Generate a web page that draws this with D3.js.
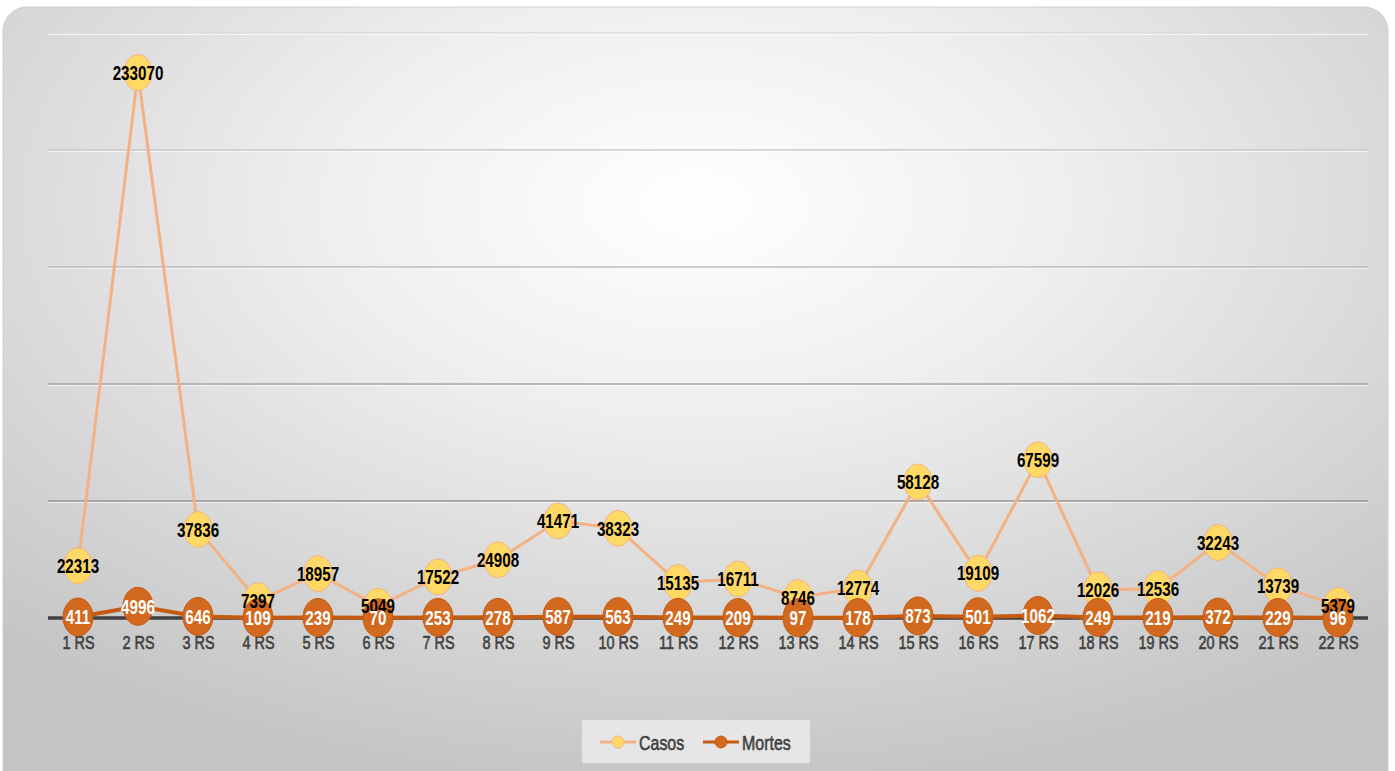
<!DOCTYPE html>
<html><head><meta charset="utf-8">
<script src="https://cdn.jsdelivr.net/npm/d3@7"></script>
<style>html,body{margin:0;padding:0;background:#fff;}svg{display:block;}</style>
</head><body>
<svg id="chart" width="1395" height="771"></svg>
<script>
const categories = ["1 RS","2 RS","3 RS","4 RS","5 RS","6 RS","7 RS","8 RS","9 RS","10 RS","11 RS","12 RS","13 RS","14 RS","15 RS","16 RS","17 RS","18 RS","19 RS","20 RS","21 RS","22 RS"];
const casos = [22313,233070,37836,7397,18957,5049,17522,24908,41471,38323,15135,16711,8746,12774,58128,19109,67599,12026,12536,32243,13739,5379];
const mortes = [411,4996,646,109,239,70,253,278,587,563,249,209,97,178,873,501,1062,249,219,372,229,96];
const yTicks = [0,50000,100000,150000,200000,250000];
const seriesNames = ["Casos","Mortes"];

const svg = d3.select("#chart");
const font = "'Liberation Sans',Arial,sans-serif";
const SX = 0.76;

const defs = svg.append("defs");
const rg = defs.append("radialGradient").attr("id","bg")
  .attr("cx","50%").attr("cy","25%").attr("r","75%").attr("fx","50%").attr("fy","25%");
rg.append("stop").attr("offset","0%").attr("stop-color","#ffffff");
rg.append("stop").attr("offset","35%").attr("stop-color","#efefef");
rg.append("stop").attr("offset","100%").attr("stop-color","#c4c4c4");

svg.append("rect").attr("x",3).attr("y",7).attr("width",1385).attr("height",790)
  .attr("rx",24).attr("fill","url(#bg)").attr("stroke","#d0d0d0").attr("stroke-width",1);

const x = d3.scalePoint().domain(categories).range([78,1338]);
const y = d3.scaleLinear().domain([0,250000]).range([618,33]);

const gridColors = ["#3f3f3f","#969696","#a4a4a4","#bcbcbc","#cacaca","#dcdcdc"];
const gridG = svg.append("g");
yTicks.forEach((t,i)=>{
  if(i===0) return;
  gridG.append("line").attr("x1",48).attr("x2",1368).attr("y1",y(t)+1.5).attr("y2",y(t)+1.5)
    .attr("stroke","#ffffff").attr("stroke-opacity",0.7).attr("stroke-width",1);
  gridG.append("line").attr("x1",48).attr("x2",1368).attr("y1",y(t)).attr("y2",y(t))
    .attr("stroke",gridColors[i]).attr("stroke-width",1.6);
});
// baseline
svg.append("line").attr("x1",48).attr("x2",1368).attr("y1",y(0)).attr("y2",y(0))
  .attr("stroke","#404040").attr("stroke-width",3.5);

// x axis labels
const xAxis = d3.axisBottom(x).tickSize(0).tickPadding(0);
const xg = svg.append("g").attr("transform",`translate(0,${y(0)+24})`).call(xAxis);
xg.select(".domain").remove();
xg.selectAll(".tick text").attr("font-family",font).attr("font-size",19)
  .attr("fill","#404040").attr("stroke","#404040").attr("stroke-width",0.6)
  .attr("y",0).attr("dy","0.36em").attr("transform",`scale(${SX},1)`);

const line = d3.line().x((d,i)=>x(categories[i])).y(d=>y(d));

svg.append("path").datum(casos).attr("d",line).attr("fill","none")
  .attr("stroke","#f4b183").attr("stroke-width",3);
svg.append("path").datum(mortes).attr("d",line).attr("fill","none")
  .attr("stroke","#c55a11").attr("stroke-width",4);

svg.append("g").selectAll("ellipse").data(casos).join("ellipse")
  .attr("cx",(d,i)=>x(categories[i])).attr("cy",d=>y(d)).attr("rx",14).attr("ry",18)
  .attr("fill","#ffd966").attr("stroke","#f4b183").attr("stroke-width",1);

svg.append("g").selectAll("ellipse").data(mortes).join("ellipse")
  .attr("cx",(d,i)=>x(categories[i])).attr("cy",d=>y(d)).attr("rx",15).attr("ry",19)
  .attr("fill","#d2691e").attr("stroke","#c55a11").attr("stroke-width",1);

function labels(data, color){
  svg.append("g").selectAll("text").data(data).join("text")
    .attr("transform",(d,i)=>`translate(${x(categories[i])},${y(d)}) scale(${SX},1)`)
    .attr("dy","0.36em")
    .attr("text-anchor","middle").attr("font-family",font).attr("font-size",20)
    .attr("font-weight","bold").attr("fill",color).text(d=>d);
}
labels(casos,"#000");
labels(mortes,"#fff");

// legend
const lg = svg.append("g");
lg.append("rect").attr("x",582).attr("y",720).attr("width",228).attr("height",43)
  .attr("fill","#ececec").attr("fill-opacity",0.8);
const legendItems = [
  {name:seriesNames[0], x0:600, line:"#f4b183", fill:"#ffd966", stroke:"#f4b183"},
  {name:seriesNames[1], x0:703, line:"#c55a11", fill:"#d2691e", stroke:"#c55a11"}
];
legendItems.forEach(it=>{
  lg.append("line").attr("x1",it.x0).attr("x2",it.x0+36).attr("y1",742).attr("y2",742)
    .attr("stroke",it.line).attr("stroke-width",3);
  lg.append("circle").attr("cx",it.x0+18).attr("cy",742).attr("r",6)
    .attr("fill",it.fill).attr("stroke",it.stroke);
  lg.append("text").attr("transform",`translate(${it.x0+39},742) scale(${SX},1)`).attr("dy","0.36em")
    .attr("font-family",font).attr("font-size",21).attr("fill","#404040")
    .attr("stroke","#404040").attr("stroke-width",0.6).text(it.name);
});
</script>
</body></html>
